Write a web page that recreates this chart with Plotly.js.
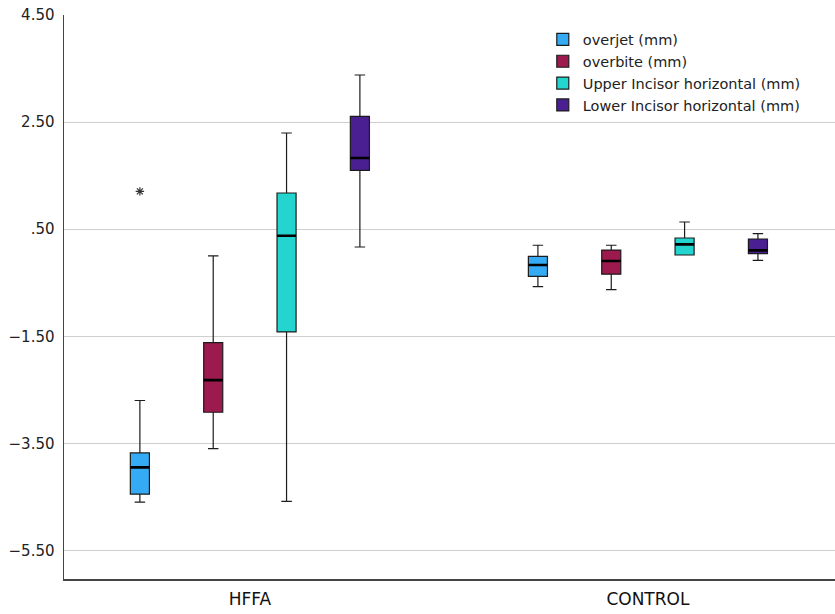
<!DOCTYPE html>
<html>
<head>
<meta charset="utf-8">
<script src="https://cdn.plot.ly/plotly-3.0.1.min.js"></script>
<style>html,body{margin:0;padding:0;background:#fff;}#chart{width:835px;height:614px;}</style>
</head>
<body>
<div id="chart"></div>
<script>
// Categories
const groups = ['HFFA', 'CONTROL'];
const seriesNames = ['overjet (mm)', 'overbite (mm)', 'Upper Incisor horizontal (mm)', 'Lower Incisor horizontal (mm)'];
const seriesColors = ['#35aaf5', '#9d1a4f', '#24d4ce', '#4a1f91'];

// Box statistics per series: [HFFA, CONTROL]
const overjetLow = [-4.60, -0.575];
const overjetQ1 = [-4.45, -0.38];
const overjetMed = [-3.95, -0.17];
const overjetQ3 = [-3.68, -0.01];
const overjetHigh = [-2.70, 0.20];
const overjetOutliers = [[1.205], []];

const overbiteLow = [-3.60, -0.63];
const overbiteQ1 = [-2.92, -0.34];
const overbiteMed = [-2.32, -0.095];
const overbiteQ3 = [-1.62, 0.11];
const overbiteHigh = [0.0, 0.20];

const upperLow = [-4.585, 0.017];
const upperQ1 = [-1.42, 0.017];
const upperMed = [0.378, 0.215];
const upperQ3 = [1.175, 0.335];
const upperHigh = [2.296, 0.634];

const lowerLow = [0.167, -0.084];
const lowerQ1 = [1.598, 0.042];
const lowerMed = [1.829, 0.103];
const lowerQ3 = [2.606, 0.316];
const lowerHigh = [3.379, 0.415];

// Y tick labels
const yTickVals = [4.5, 2.5, 0.5, -1.5, -3.5, -5.5];
const yTickText = ['4.50', '2.50', '.50', '\u22121.50', '\u22123.50', '\u22125.50'];

const stats = [
  {lf: overjetLow, q1: overjetQ1, med: overjetMed, q3: overjetQ3, uf: overjetHigh, pts: overjetOutliers},
  {lf: overbiteLow, q1: overbiteQ1, med: overbiteMed, q3: overbiteQ3, uf: overbiteHigh, pts: null},
  {lf: upperLow, q1: upperQ1, med: upperMed, q3: upperQ3, uf: upperHigh, pts: null},
  {lf: lowerLow, q1: lowerQ1, med: lowerMed, q3: lowerQ3, uf: lowerHigh, pts: null}
];

const traces = [];
stats.forEach((s, i) => {
  const t = {
    type: 'box',
    name: seriesNames[i],
    x: groups,
    offsetgroup: 'g' + i,
    q1: s.q1, median: s.med, q3: s.q3,
    lowerfence: s.lf, upperfence: s.uf,
    fillcolor: seriesColors[i],
    line: {color: '#1c1c1c', width: 1.2},
    whiskerwidth: 0.55,
    boxpoints: s.pts ? 'outliers' : false,
    pointpos: 0,
    jitter: 0,
    marker: {symbol: 'asterisk-open', size: 7, color: '#333', line: {color: '#333', width: 1.2}},
    hoverinfo: 'skip'
  };
  if (s.pts) t.y = s.pts;
  traces.push(t);
});
// Thick median bars (same slot as each series' box)
stats.forEach((s, i) => {
  traces.push({
    type: 'box',
    name: seriesNames[i] + ' median',
    x: groups,
    offsetgroup: 'g' + i,
    q1: s.med, median: s.med, q3: s.med,
    lowerfence: s.med, upperfence: s.med,
    fillcolor: 'rgba(0,0,0,0)',
    line: {color: '#000', width: 2.6},
    whiskerwidth: 0,
    boxpoints: false,
    showlegend: false,
    hoverinfo: 'skip'
  });
});

const layout = {
  width: 835, height: 614,
  margin: {l: 64, r: 0, t: 15, b: 35},
  paper_bgcolor: '#fff', plot_bgcolor: '#fff',
  boxmode: 'group',
  boxgap: 0.263,
  boxgroupgap: 0.74,
  showlegend: true,
  legend: {
    x: 0.621, y: 0.985, xanchor: 'left', yanchor: 'top',
    bgcolor: 'rgba(0,0,0,0)',
    font: {family: 'DejaVu Sans, sans-serif', size: 14.5, color: '#222'},
    itemwidth: 30, tracegroupgap: 0
  },
  xaxis: {
    type: 'category',
    range: [-0.467, 1.470],
    showgrid: false, zeroline: false,
    showline: true, linecolor: '#444', linewidth: 1.5,
    ticks: '',
    tickfont: {family: 'DejaVu Sans, sans-serif', size: 17, color: '#111'},
    ticklabelstandoff: 4,
    fixedrange: true
  },
  yaxis: {
    range: [-6.034, 4.5],
    tickvals: yTickVals, ticktext: yTickText,
    showgrid: true, gridcolor: '#cfcfcf', gridwidth: 1,
    zeroline: false,
    showline: true, linecolor: '#444', linewidth: 1.5,
    ticks: '',
    tickfont: {family: 'DejaVu Sans, sans-serif', size: 15, color: '#222'},
    ticklabelstandoff: 5,
    fixedrange: true
  }
};

Plotly.newPlot('chart', traces, layout, {displayModeBar: false, staticPlot: true});
</script>
</body>
</html>
